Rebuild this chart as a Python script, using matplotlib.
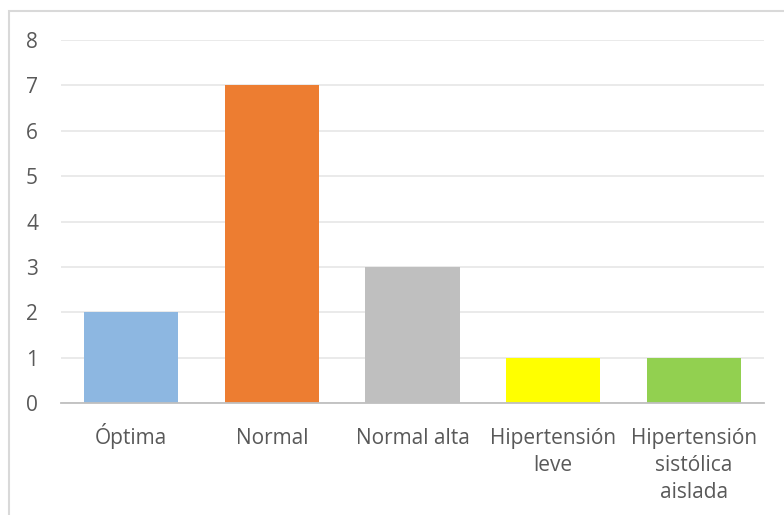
import matplotlib
matplotlib.use("Agg")
import matplotlib.pyplot as plt
from matplotlib.patches import Rectangle

categories = ["Óptima", "Normal", "Normal alta", "Hipertensión\nleve",
              "Hipertensión\nsistólica\naislada"]
values = [2, 7, 3, 1, 1]
colors = ["#8DB7E1", "#ED7D31", "#BFBFBF", "#FFFF00", "#92D050"]
yticks = [0, 1, 2, 3, 4, 5, 6, 7, 8]

plt.rcParams["font.family"] = ["Open Sans", "DejaVu Sans"]
text_color = "#595959"

fig = plt.figure(figsize=(7.84, 5.15), dpi=100)
ax = fig.add_axes([61 / 784, 1 - 403 / 515, 703 / 784, 363 / 515])

x = list(range(len(categories)))
ax.bar(x, values, width=0.67, color=colors, zorder=3)

ax.set_xlim(-0.5, len(categories) - 0.5)
ax.set_ylim(0, 8)
ax.set_yticks(yticks)
ax.set_yticklabels([str(t) for t in yticks])
ax.set_xticks(x)
ax.set_xticklabels([])

# category labels, one line at a time so every first line shares a baseline
for i, label in zip(x, categories):
    for k, line in enumerate(label.split("\n")):
        ax.annotate(line, xy=(i, 0), xycoords=("data", "axes fraction"),
                    xytext=(0, -(41 + 27 * k)), textcoords="offset pixels",
                    ha="center", va="baseline", fontsize=15, color=text_color)

ax.grid(axis="y", color="#E6E6E6", linewidth=1.2, zorder=0)
for side in ["top", "right", "left"]:
    ax.spines[side].set_visible(False)
ax.spines["bottom"].set_color("#BFBFBF")
ax.spines["bottom"].set_linewidth(1.3)
ax.spines["bottom"].set_zorder(4)

ax.tick_params(axis="both", length=0, labelsize=15, colors=text_color)
ax.tick_params(axis="y", pad=16.5)

# chart area border
fig.patches.append(Rectangle((9 / 784, -0.1), 1.2, 1 - 11 / 515 + 0.1,
                             transform=fig.transFigure, fill=False,
                             edgecolor="#D9D9D9", linewidth=1.5))

fig.savefig("out.png", dpi=100)
